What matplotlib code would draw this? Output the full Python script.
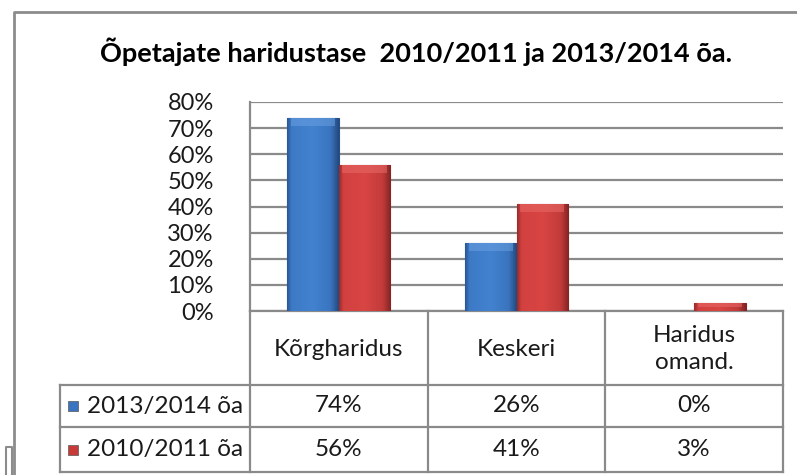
import numpy as np
import matplotlib.pyplot as plt
from matplotlib.colors import LinearSegmentedColormap

plt.rcParams['font.family'] = ['Lato', 'DejaVu Sans']

# data
categories = ['Kõrgharidus', 'Keskeri', 'Haridus\nomand.']
series_names = ['2013/2014 õa', '2010/2011 õa']
val_2013 = [0.74, 0.26, 0.00]
val_2010 = [0.56, 0.41, 0.03]
ytick_vals = [0.0, 0.1, 0.2, 0.3, 0.4, 0.5, 0.6, 0.7, 0.8]

W, H = 797, 475
grid_col = '#8a8a8a'
text_col = '#1a1a1a'

blue_cmap = LinearSegmentedColormap.from_list(
    'b', [(0, '#2a5794'), (0.08, '#3d7ac6'), (0.5, '#4282cf'), (0.85, '#3a74be'), (1, '#234a80')])
red_cmap = LinearSegmentedColormap.from_list(
    'r', [(0, '#9a2c2c'), (0.08, '#d24140'), (0.5, '#d84543'), (0.85, '#c23b3a'), (1, '#842424')])
tops = ['#6a9fe0', '#e86a68']

fig = plt.figure(figsize=(W / 100, H / 100), dpi=100)

# overlay in pixel coords for border and table
lay = fig.add_axes([0, 0, 1, 1], zorder=0)
lay.set_xlim(0, W)
lay.set_ylim(H, 0)
lay.axis('off')

ax = fig.add_axes([250 / W, 1 - 311 / H, (783 - 250) / W, (311 - 102) / H], zorder=1)
ax.patch.set_alpha(0)

n = len(categories)
x = np.arange(n)
bw = 0.29
bevel = 0.03


def gradient_bars(bars, cmap, top_col):
    grad = np.linspace(0, 1, 64).reshape(1, -1)
    for b in bars:
        h = b.get_height()
        if h <= 0:
            b.set_visible(False)
            continue
        x0 = b.get_x()
        im = ax.imshow(grad, cmap=cmap, aspect='auto', extent=(x0, x0 + b.get_width(), 0, h),
                       origin='lower', zorder=3, interpolation='bicubic')
        im.set_clip_path(b)
        bh = min(bevel, h * 0.5)
        ax.bar(x0 + b.get_width() / 2, bh, b.get_width() * 0.86, bottom=h - bh,
               color=top_col, alpha=0.55, linewidth=0, zorder=4)


b1 = ax.bar(x - bw / 2, val_2013, bw, color='#3f7cc8', edgecolor='#244f86', linewidth=0.8, zorder=3)
b2 = ax.bar(x + bw / 2, val_2010, bw, color='#d03e3c', edgecolor='#8a2424', linewidth=0.8, zorder=3)
gradient_bars(b1, blue_cmap, tops[0])
gradient_bars(b2, red_cmap, tops[1])

ax.set_xlim(-0.5, n - 0.5)
ax.set_ylim(0, 0.8)
ax.set_yticks(ytick_vals)
ax.set_yticklabels(['%d%%' % round(v * 100) for v in ytick_vals], fontsize=17, color=text_col)
ax.tick_params(axis='y', length=0, pad=26)
ax.set_xticks([])
ax.yaxis.grid(True, color=grid_col, linewidth=1.6)
ax.set_axisbelow(True)
for s in ['top', 'right']:
    ax.spines[s].set_visible(False)
for s in ['left', 'bottom']:
    ax.spines[s].set_color(grid_col)
    ax.spines[s].set_linewidth(1.6)

# column edges of the table taken from the bar axes
edges = [ax.transData.transform((i - 0.5, 0))[0] for i in range(n + 1)]
centers = [(edges[i] + edges[i + 1]) / 2 for i in range(n)]

y_head_top, y_head_bot, y_row1, y_row2 = 311, 385, 427, 472
x_leg = 60
lw = 1.6

# outer chart border
lay.plot([14, 14, W], [H, 12, 12], color='#8c8c8c', lw=2, solid_capstyle='butt')
lay.plot([6, 6, 12, 12], [H, 447, 447, H], color='#8c8c8c', lw=1.5)

# table lines
for e in edges:
    lay.plot([e, e], [y_head_top, y_row2], color=grid_col, lw=lw)
lay.plot([x_leg, x_leg], [y_head_bot, y_row2], color=grid_col, lw=lw)
for yy in [y_head_bot, y_row1, y_row2]:
    lay.plot([x_leg, edges[-1]], [yy, yy], color=grid_col, lw=lw)

fs = 17.5
for c, lab in zip(centers, categories):
    lay.text(c, (y_head_top + y_head_bot) / 2 + 1, lab, ha='center', va='center',
             fontsize=fs, color=text_col, linespacing=1.3)

rows = [(val_2013, '#3a74c0'), (val_2010, '#c83a38')]
row_ys = [(y_head_bot + y_row1) / 2, (y_row1 + y_row2) / 2]
for (vals, col), name, yy in zip(rows, series_names, row_ys):
    lay.plot([73], [yy], marker='s', markersize=7.5, color=col, markeredgecolor='#555555', markeredgewidth=0.5)
    lay.text(87, yy, name, ha='left', va='center', fontsize=fs, color=text_col)
    for c, v in zip(centers, vals):
        lay.text(c, yy, '%d%%' % round(v * 100), ha='center', va='center', fontsize=fs, color=text_col)

fig.text(416 / W, 1 - 52 / H, 'Õpetajate haridustase  2010/2011 ja 2013/2014 õa.',
         ha='center', va='center', fontsize=19.5, fontweight='bold', color='#000000')

fig.savefig('out.png', dpi=100, facecolor='white')
